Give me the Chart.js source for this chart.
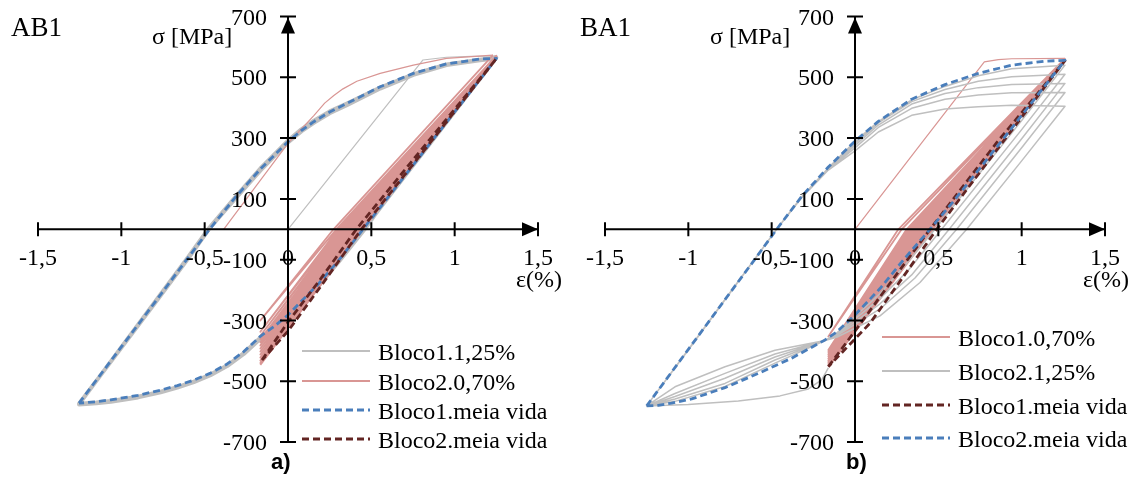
<!DOCTYPE html>
<html>
<head>
<meta charset="utf-8">
<script src="https://cdn.jsdelivr.net/npm/chart.js@4.4.1/dist/chart.umd.min.js"></script>
<style>
  body { margin: 0; background: #fff; width: 1133px; height: 488px; overflow: hidden; position: relative; font-family: "Liberation Serif", "Times New Roman", serif; color: #000; }
  .painel { position: absolute; top: 0; width: 566px; height: 488px; }
  .painel canvas { position: absolute; left: 0; top: 0; }
  .txt { position: absolute; white-space: nowrap; line-height: 1; }
  .leg { position: absolute; height: 24px; display: flex; align-items: center; font-size: 24px; line-height: 24px; white-space: nowrap; }
  .letra { font-family: "Liberation Sans", Arial, sans-serif; font-weight: bold; font-size: 22px; }
</style>
</head>
<body>
<div class="painel" id="p1" style="left:0">
  <canvas id="c1" width="566" height="488"></canvas>
  <div class="txt" style="left:11px;top:14px;font-size:27px">AB1</div>
  <div class="txt" style="left:152px;top:24px;font-size:24px">σ [MPa]</div>
  <div class="txt" style="left:516px;top:267px;font-size:24px">ε(%)</div>
  <div class="txt letra" style="left:271px;top:451px">a)</div>
</div>
<div class="painel" id="p2" style="left:567px">
  <canvas id="c2" width="566" height="488"></canvas>
  <div class="txt" style="left:13px;top:14px;font-size:27px">BA1</div>
  <div class="txt" style="left:143px;top:24px;font-size:24px">σ [MPa]</div>
  <div class="txt" style="left:516px;top:267px;font-size:24px">ε(%)</div>
  <div class="txt letra" style="left:279px;top:451px">b)</div>
</div>
<script>
// eixos
const strainTicks = [-1.5, -1, -0.5, 0, 0.5, 1, 1.5];
const strainTickLabels = ['-1,5', '-1', '-0,5', '0', '0,5', '1', '1,5'];
const stressTicks = [-700, -500, -300, -100, 100, 300, 500, 700];
const stressTickLabels = ['-700', '-500', '-300', '-100', '100', '300', '500', '700'];

// AB1 - [deformação %, tensão MPa]
const ab1Bloco1Inicial = [[0,0],[0.4,275],[0.81,557],[0.95,566],[1.1,569],[1.25,570]];
const ab1Bloco1 = [
  [1.25,570],[0.9,318],[0.6,108],[0.46,0],[0.3,-110],[0.17,-195],[0.07,-246],[0,-287],[-0.08,-325],[-0.166,-360],[-0.265,-410],[-0.365,-450],[-0.465,-480],[-0.565,-503],[-0.664,-521],[-0.764,-536],[-0.9,-553],[-1.063,-567],[-1.15,-572],[-1.254,-576],
  [-1.0,-388],[-0.8,-240],[-0.6,-92],[-0.48,0],[-0.32,104],[-0.166,200],[0,292],[0.08,329],[0.155,357],[0.25,388],[0.353,414],[0.553,466],[0.752,510],[0.951,542],[1.151,558],[1.25,565],
  [0.9,316],[0.6,104],[0.455,0],[0.3,-108],[0.17,-192],[0.07,-243],[0,-285],[-0.08,-322],[-0.166,-357],[-0.265,-407],[-0.365,-448],[-0.465,-478],[-0.565,-501],[-0.664,-519],[-0.764,-534],[-0.9,-551],[-1.063,-565],[-1.15,-570],[-1.254,-574],
  [-1.0,-390],[-0.8,-244],[-0.6,-97],[-0.475,0],[-0.32,98],[-0.166,193],[0,286],[0.08,322],[0.155,350],[0.25,382],[0.353,408],[0.553,463],[0.752,508],[0.951,540],[1.151,556],[1.25,562]
];
const ab1Bloco2Inicial = [[-0.386,0],[-0.2,136],[0,283],[0.155,374],[0.22,415],[0.275,440],[0.33,462],[0.413,487],[0.553,513],[0.752,540],[0.951,562],[1.23,573]];
const ab1Bloco2 = [
  [1.23,573],[0.273,0],[-0.166,-300],
  [0.29,0],[1.25,571],[0.3,0],[-0.166,-337],
  [0.31,0],[1.25,570],[0.32,0],[-0.166,-350],
  [0.33,0],[1.25,569],[0.34,0],[-0.166,-362],
  [0.35,0],[1.25,568],[0.355,0],[-0.166,-372],
  [0.365,0],[1.25,568],[0.37,0],[-0.166,-382],
  [0.38,0],[1.25,567],[0.385,0],[-0.166,-392],
  [0.395,0],[1.25,567],[0.4,0],[-0.166,-402],
  [0.405,0],[1.25,566],[0.41,0],[-0.166,-412],
  [0.415,0],[1.25,566],[0.42,0],[-0.166,-422],
  [0.425,0],[1.25,565],[0.43,0],[-0.166,-432],
  [0.435,0],[1.25,565],[0.44,0],[-0.166,-440],
  [0.445,0],[1.25,564],[0.45,0],[-0.166,-446]
];
const ab1Meia1 = [
  [-1.254,-572],[-1.0,-387],[-0.8,-241],[-0.6,-94],[-0.471,0],[-0.316,105],[-0.166,198],[0,288],[0.08,325],[0.155,354],[0.25,386],[0.353,414],[0.553,469],[0.752,513],[0.951,544],[1.151,560],[1.251,562],
  [0.9,316],[0.6,105],[0.45,0],[0.3,-105],[0.174,-185],[0.074,-240],[0,-282],[-0.08,-318],[-0.166,-352],[-0.265,-402],[-0.365,-443],[-0.465,-473],[-0.565,-496],[-0.664,-514],[-0.764,-529],[-0.9,-546],[-1.063,-561],[-1.15,-567],[-1.254,-572]
];
const ab1Meia2 = [[-0.156,-430],[0,-305],[0.2,-160],[0.41,0],[0.8,262],[1.251,562],[0.8,248],[0.44,0],[0.2,-185],[0,-335],[-0.156,-430]];

// BA1
const ba1Bloco1Inicial = [[0,0],[0.4,284],[0.776,551],[0.86,558],[0.94,561],[1.26,562]];
const ba1Bloco1 = [
  [1.26,562],[0.26,0],[-0.16,-353],
  [0.28,0],[1.26,560],[0.31,0],[-0.16,-397],
  [0.32,0],[1.26,559],[0.33,0],[-0.16,-404],
  [0.34,0],[1.26,558],[0.35,0],[-0.16,-411],
  [0.36,0],[1.26,557],[0.37,0],[-0.16,-418],
  [0.38,0],[1.26,557],[0.39,0],[-0.16,-425],
  [0.4,0],[1.26,556],[0.41,0],[-0.16,-432],
  [0.415,0],[1.26,556],[0.42,0],[-0.16,-437],
  [0.43,0],[1.26,555],[0.44,0],[-0.16,-443],
  [0.445,0],[1.26,555],[0.45,0],[-0.16,-447],
  [0.46,0],[1.26,555],[0.47,0],[-0.16,-452]
];
const ba1Bloco2 = [
  [-0.16,-456],[-0.2,-495],[-0.28,-525],[-0.45,-548],[-0.7,-565],[-1.0,-576],[-1.25,-581],
  [-1.0,-397],[-0.75,-210],[-0.47,0],[-0.32,104],[-0.16,195],[0,258],[0.14,320],[0.34,375],[0.54,396],[0.74,403],[0.94,408],[1.26,405],
  [1.0,225],[0.67,0],[0.39,-175],[0.15,-285],[-0.11,-355],[-0.18,-366],[-0.48,-398],[-0.78,-452],[-1.08,-518],[-1.25,-581],
  [-1.0,-396],[-0.75,-209],[-0.47,0],[-0.32,104],[-0.16,196],[0,268],[0.14,335],[0.34,398],[0.54,428],[0.74,442],[0.94,449],[1.26,450],
  [1.0,268],[0.61,0],[0.36,-160],[0.15,-262],[-0.11,-350],[-0.18,-366],[-0.48,-410],[-0.78,-474],[-1.08,-540],[-1.25,-581],
  [-1.0,-396],[-0.75,-209],[-0.47,0],[-0.32,105],[-0.16,198],[0,276],[0.14,343],[0.34,412],[0.54,447],[0.74,466],[0.94,476],[1.26,480],
  [1.0,298],[0.565,0],[0.34,-150],[0.15,-245],[-0.11,-347],[-0.18,-366],[-0.48,-420],[-0.78,-490],[-1.08,-550],[-1.25,-581],
  [-1.0,-395],[-0.75,-209],[-0.47,0],[-0.32,106],[-0.16,200],[0,283],[0.14,350],[0.34,420],[0.54,460],[0.74,487],[0.94,502],[1.26,510],
  [1.0,328],[0.52,0],[0.32,-135],[0.15,-228],[-0.11,-344],[-0.18,-366],[-0.48,-430],[-0.78,-507],[-1.08,-558],[-1.25,-581],
  [-1.0,-395],[-0.75,-208],[-0.47,0],[-0.32,107],[-0.16,202],[0,289],[0.14,354],[0.34,426],[0.54,470],[0.74,505],[0.94,528],[1.26,540],
  [1.0,358],[0.48,0],[0.3,-118],[0.15,-212],[-0.11,-341],[-0.18,-366],[-0.48,-440],[-0.78,-517],[-1.08,-566],[-1.25,-581]
];
const ba1Meia1 = [[-0.16,-452],[-0.01,-342],[0.2,-185],[0.45,0],[0.85,285],[1.26,555],[0.87,275],[0.49,0],[0.29,-156],[0.09,-309],[-0.16,-452]];
const ba1Meia2 = [
  [-1.25,-581],[-1.0,-395],[-0.75,-209],[-0.6,-98],[-0.47,0],[-0.32,108],[-0.16,205],[0,290],[0.14,355],[0.34,428],[0.54,476],[0.74,513],[0.94,540],[1.14,553],[1.26,556],
  [0.9,305],[0.6,98],[0.45,0],[0.29,-101],[0.15,-195],[0,-282],[-0.11,-338],[-0.18,-364],[-0.38,-424],[-0.58,-474],[-0.78,-521],[-0.98,-558],[-1.1,-572],[-1.18,-579],[-1.25,-581]
];

const CINZA = '#bfbfbf', ROSA = '#d99694', VINHO = '#632523', AZUL = '#4a7ebb';

const pts = arr => arr.map(([x, y]) => ({ x, y }));

const linha = (label, data, cor, largura, tracejado, ordem) => ({
  label, data: pts(data), borderColor: cor, borderWidth: largura,
  borderDash: tracejado ? [7, 4] : [], pointRadius: 0, showLine: true,
  fill: false, tension: 0, borderJoinStyle: 'round', order: ordem
});

const eixos = {
  id: 'eixos',
  afterDatasetsDraw(chart) {
    const { ctx, scales: { x, y } } = chart;
    const x0 = x.getPixelForValue(0), y0 = y.getPixelForValue(0);
    const xa = x.getPixelForValue(strainTicks[0]), xb = x.getPixelForValue(strainTicks[strainTicks.length - 1]);
    const ya = y.getPixelForValue(stressTicks[0]), yb = y.getPixelForValue(stressTicks[stressTicks.length - 1]);
    ctx.save();
    ctx.strokeStyle = '#000';
    ctx.fillStyle = '#000';
    ctx.lineWidth = 2;
    ctx.beginPath();
    ctx.moveTo(xa, y0); ctx.lineTo(xb, y0);
    ctx.moveTo(x0, ya); ctx.lineTo(x0, yb);
    strainTicks.forEach(v => {
      const px = x.getPixelForValue(v);
      ctx.moveTo(px, y0 - 7); ctx.lineTo(px, y0 + 7);
    });
    stressTicks.forEach(v => {
      const py = y.getPixelForValue(v);
      ctx.moveTo(x0 - 8, py); ctx.lineTo(x0 + 8, py);
    });
    ctx.stroke();
    // setas nas pontas
    ctx.beginPath();
    ctx.moveTo(xb, y0); ctx.lineTo(xb - 16, y0 - 7); ctx.lineTo(xb - 16, y0 + 7); ctx.closePath();
    ctx.moveTo(x0, yb + 1); ctx.lineTo(x0 - 7, yb + 17); ctx.lineTo(x0 + 7, yb + 17); ctx.closePath();
    ctx.fill();
    ctx.font = '24px "Liberation Serif"';
    ctx.textBaseline = 'alphabetic';
    ctx.textAlign = 'center';
    strainTicks.forEach((v, i) => ctx.fillText(strainTickLabels[i], x.getPixelForValue(v), y0 + 36));
    ctx.textAlign = 'right';
    stressTicks.forEach((v, i) => ctx.fillText(stressTickLabels[i], x0 - 21, y.getPixelForValue(v) + 8));
    ctx.restore();
  }
};

const grafico = (id, datasets) => new Chart(document.querySelector(id), {
  type: 'scatter',
  data: { datasets },
  options: {
    responsive: false, animation: false, devicePixelRatio: 1, events: [],
    layout: { padding: { left: 38, right: 28, top: 16.5, bottom: 45.9 } },
    plugins: { legend: { display: false }, tooltip: { enabled: false } },
    scales: {
      x: { type: 'linear', min: -1.5, max: 1.5, display: false },
      y: { type: 'linear', min: -700, max: 700, display: false }
    }
  },
  plugins: [eixos]
});

grafico('#c1', [
  linha('Bloco2.meia vida', ab1Meia2, VINHO, 2.8, true, 1),
  linha('Bloco1.meia vida', ab1Meia1, AZUL, 2.8, true, 2),
  linha('Bloco2.0,70%', ab1Bloco2, ROSA, 1.8, false, 3),
  linha('Bloco2.0,70%', ab1Bloco2Inicial, ROSA, 1.2, false, 4),
  linha('Bloco1.1,25%', ab1Bloco1Inicial, CINZA, 1.2, false, 5),
  linha('Bloco1.1,25%', ab1Bloco1, CINZA, 4, false, 6)
]);

grafico('#c2', [
  linha('Bloco2.meia vida', ba1Meia2, AZUL, 2.8, true, 1),
  linha('Bloco1.meia vida', ba1Meia1, VINHO, 2.8, true, 2),
  linha('Bloco2.1,25%', ba1Bloco2, CINZA, 1.5, false, 3),
  linha('Bloco1.0,70%', ba1Bloco1, ROSA, 1.8, false, 4),
  linha('Bloco1.0,70%', ba1Bloco1Inicial, ROSA, 1.2, false, 5)
]);

// legendas em html
const legenda = (painel, esquerda, topos, itens) => {
  itens.forEach((it, i) => {
    const dash = it.tracejado ? 'stroke-dasharray="7 4"' : '';
    const html = `<div class="leg" style="left:${esquerda}px;top:${topos[i]}px">
      <svg width="68" height="24" style="margin-right:8px"><line x1="0" y1="11" x2="68" y2="11" stroke="${it.cor}" stroke-width="${it.largura}" ${dash}/></svg>${it.label}</div>`;
    document.querySelector(painel).insertAdjacentHTML('beforeend', html);
  });
};

legenda('#p1', 302, [340, 370, 399, 428], [
  { label: 'Bloco1.1,25%', cor: CINZA, largura: 2 },
  { label: 'Bloco2.0,70%', cor: ROSA, largura: 2 },
  { label: 'Bloco1.meia vida', cor: AZUL, largura: 2.8, tracejado: true },
  { label: 'Bloco2.meia vida', cor: VINHO, largura: 2.8, tracejado: true }
]);

legenda('#p2', 315, [326, 360, 394, 427], [
  { label: 'Bloco1.0,70%', cor: ROSA, largura: 2 },
  { label: 'Bloco2.1,25%', cor: CINZA, largura: 2 },
  { label: 'Bloco1.meia vida', cor: VINHO, largura: 2.8, tracejado: true },
  { label: 'Bloco2.meia vida', cor: AZUL, largura: 2.8, tracejado: true }
]);
</script>
</body>
</html>
